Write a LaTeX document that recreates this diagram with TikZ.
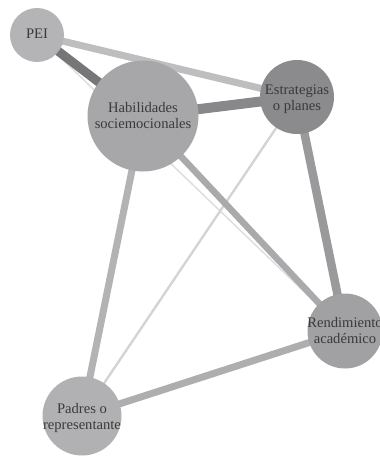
\documentclass[tikz,border=0pt]{standalone}
\usepackage{fontspec}
\setmainfont{Liberation Serif}
\usetikzlibrary{backgrounds}
\definecolor{txt}{HTML}{3A3A3A}
\tikzset{
  bubble/.style={circle, draw=none, inner sep=0pt},
  lbl/.style={align=center, text=txt, font=\fontsize{14.6}{16}\selectfont, inner sep=0pt},
  edge/.style={line cap=butt},
}
\begin{document}
\begin{tikzpicture}[x=1pt,y=-1pt]
\useasboundingbox (0,0) rectangle (380,458);
\clip (0,0) rectangle (380,458);
% nodes (circles)
\node[bubble, fill={rgb,255:red,180;green,180;blue,182}, minimum size=54pt] (pei) at (37,35) {};
\node[bubble, fill={rgb,255:red,167;green,167;blue,169}, minimum size=111pt] (hab) at (143,116) {};
\node[bubble, fill={rgb,255:red,139;green,139;blue,141}, minimum size=74pt] (est) at (297,97) {};
\node[bubble, fill={rgb,255:red,161;green,161;blue,163}, minimum size=75pt] (ren) at (345,331) {};
\node[bubble, fill={rgb,255:red,177;green,177;blue,179}, minimum size=79pt] (pad) at (82,416) {};
% edges
\begin{scope}[on background layer]
\draw[edge, line width=1.5pt, color={rgb,255:red,222;green,222;blue,222}] (pei.center) -- (ren.center);
\draw[edge, line width=2.4pt, color={rgb,255:red,212;green,212;blue,214}] (est.center) -- (pad.center);
\draw[edge, line width=7pt, color={rgb,255:red,190;green,190;blue,192}] (pei.center) -- (est.center);
\draw[edge, line width=9pt, color={rgb,255:red,118;green,118;blue,120}] (pei.center) -- (hab.center);
\draw[edge, line width=10pt, color={rgb,255:red,136;green,136;blue,138}] (hab.center) -- (est.center);
\draw[edge, line width=8.5pt, color={rgb,255:red,154;green,154;blue,156}] (est.center) -- (ren.center);
\draw[edge, line width=6.5pt, color={rgb,255:red,170;green,170;blue,172}] (hab.center) -- (ren.center);
\draw[edge, line width=7pt, color={rgb,255:red,179;green,179;blue,181}] (hab.center) -- (pad.center);
\draw[edge, line width=7pt, color={rgb,255:red,174;green,174;blue,176}] (pad.center) -- (ren.center);
\end{scope}
% labels
\node[lbl] (peit) at (37,34) {PEI};
\node[lbl] (habt) at (143,116) {Habilidades\\sociemocionales};
\node[lbl] (estt) at (297,99) {Estrategias\\o planes};
\node[lbl] (rent) at (345,331) {Rendimiento\\académico};
\node[lbl] (padt) at (82,418) {Padres o\\representante};
\end{tikzpicture}
\end{document}
